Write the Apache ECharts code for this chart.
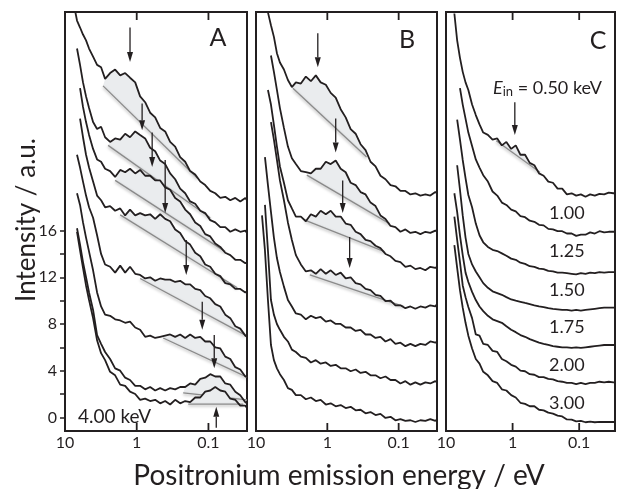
<!DOCTYPE html>
<html><head><meta charset="utf-8">
<script src="https://cdn.jsdelivr.net/npm/echarts@6/dist/echarts.min.js"></script>
<style>html,body{margin:0;padding:0;background:#fff}#c{width:618px;height:489px}</style>
</head><body><div id="c"></div>
<script>
// ---------- data ----------
const energy = [8.24, 7.49, 6.80, 6.17, 5.61, 5.09, 4.62, 4.06, 3.57, 3.14, 2.76, 2.35, 2.00, 1.70, 1.45, 1.24, 1.05, 0.897, 0.763, 0.650, 0.553, 0.471, 0.401, 0.342, 0.291, 0.248, 0.211, 0.180, 0.153, 0.130, 0.111, 0.0944, 0.0804, 0.0684, 0.0583, 0.0496, 0.0422, 0.0360, 0.0306, 0.029];
const energyMin = 0.029, energyMax = 10;
const xTickValues = [1, 0.1];
const yMin = -1.17, yMax = 34.73;
const yTicks = [0, 2, 4, 6, 8, 10, 12, 14, 16];
const yTickLabels = [0, 4, 8, 12, 16];

// Panel A
const A1 = [null, 35.3, 34.0, 33.4, 32.8, 32.3, 31.6, 30.9, 30.2, 30.0, 29.0, 29.5, 29.8, 29.3, 29.5, 29.1, 28.7, 27.5, 27.0, 26.1, 25.7, 24.8, 24.5, 23.6, 23.2, 22.3, 21.9, 21.1, 20.8, 20.2, 19.9, 19.4, 19.2, 18.8, 18.9, 18.6, 18.8, 18.5, 18.8, 18.6];
const A2 = [null, null, 31.6, 30.2, 28.7, 27.5, 26.5, 25.3, 24.7, 24.9, 24.0, 23.6, 23.9, 23.8, 24.3, 24.0, 24.5, 24.2, 23.9, 23.1, 22.8, 22.0, 21.7, 20.9, 20.4, 19.6, 19.2, 18.5, 18.3, 17.7, 17.5, 16.9, 16.7, 16.3, 16.3, 15.9, 16.1, 15.9, 16.0, 15.8];
const A3 = [null, null, null, 28.2, 26.6, 25.3, 24.2, 23.0, 22.1, 21.9, 21.3, 21.1, 20.6, 21.2, 21.0, 21.3, 20.9, 21.2, 20.7, 20.7, 20.3, 20.3, 19.7, 19.5, 18.8, 18.5, 17.8, 17.4, 16.7, 16.4, 15.7, 15.5, 14.9, 14.6, 14.1, 13.9, 13.5, 13.5, 13.2, 13.3];
const A4 = [null, null, null, 25.6, 24.0, 22.5, 21.4, 20.2, 19.0, 18.6, 18.0, 18.1, 17.7, 17.9, 17.3, 17.8, 17.3, 17.5, 17.3, 17.4, 17.0, 17.4, 17.0, 16.8, 16.1, 15.8, 15.1, 14.8, 14.1, 13.8, 13.1, 12.9, 12.3, 12.1, 11.5, 11.4, 11.0, 11.0, 10.7, 10.8];
const A5 = [null, null, 22.5, 21.4, 20.2, 19.0, 18.0, 17.1, 15.6, 14.0, 13.1, 12.9, 12.4, 13.0, 12.4, 12.9, 12.3, 12.2, 11.9, 12.0, 11.7, 11.9, 11.8, 11.8, 11.6, 11.7, 11.4, 11.4, 11.0, 10.9, 10.4, 10.2, 9.7, 9.5, 8.8, 8.5, 7.8, 7.6, 7.0, 6.9];
const A6 = [null, null, 19.2, 18.2, 16.7, 15.4, 14.2, 12.6, 10.7, 9.5, 8.8, 8.7, 8.4, 8.3, 8.1, 8.2, 7.7, 7.5, 6.9, 7.0, 6.8, 6.9, 7.0, 7.1, 6.9, 7.1, 6.8, 7.1, 6.8, 6.9, 6.5, 6.5, 6.0, 5.9, 5.2, 5.0, 4.3, 4.1, 3.5, 3.5];
const A7 = [null, null, 16.2, 14.8, 13.3, 12.0, 10.7, 9.2, 7.05, 6.3, 5.6, 5.0, 4.2, 4.0, 3.4, 3.2, 2.7, 2.7, 2.4, 2.6, 2.3, 2.5, 2.3, 2.5, 2.4, 2.6, 2.6, 2.9, 2.8, 3.3, 3.4, 3.7, 3.5, 3.5, 2.9, 2.8, 2.2, 1.9, 1.3, 1.2];
const A8 = [null, null, 15.9, 14.3, 12.8, 11.3, 10.05, 8.5, 6.6, 5.5, 4.9, 3.9, 3.6, 2.8, 2.7, 2.2, 2.0, 1.5, 1.6, 1.4, 1.5, 1.2, 1.4, 1.1, 1.5, 1.2, 1.4, 1.3, 1.7, 1.7, 2.2, 2.3, 2.6, 2.3, 2.2, 1.6, 1.5, 1.0, 1.0, 0.8];

// Panel B
const B1 = [null, 35.6, 34.7, 33.6, 32.6, 31.2, 30.4, 29.8, 28.9, 28.3, 28.7, 28.6, 29.2, 28.8, 29.3, 28.7, 28.5, 27.8, 27.4, 26.4, 25.7, 24.7, 24.3, 23.4, 22.9, 21.9, 21.5, 20.7, 20.4, 19.9, 19.8, 19.4, 19.4, 19.1, 19.2, 19.0, 19.1, 19.0, 19.3, 19.2];
const B2 = [null, null, null, 31.0, 29.6, 28.05, 26.5, 24.8, 23.2, 22.2, 21.7, 21.1, 21.0, 20.9, 21.3, 21.3, 21.9, 21.7, 22.0, 21.3, 21.0, 20.1, 19.9, 19.3, 19.1, 18.4, 18.1, 17.3, 17.0, 16.4, 16.3, 15.9, 16.1, 15.8, 15.9, 15.7, 15.9, 15.8, 16.0, 15.9];
const B3 = [null, null, 28.05, 26.8, 25.05, 23.2, 21.5, 20.1, 18.6, 17.9, 17.2, 17.2, 16.8, 17.4, 17.2, 17.7, 17.4, 17.7, 17.2, 17.2, 16.6, 16.5, 15.9, 15.7, 15.2, 15.1, 14.7, 14.5, 14.0, 13.8, 13.4, 13.3, 12.9, 13.0, 12.7, 12.8, 12.6, 12.9, 12.8, 12.9];
const B4 = [null, null, null, 25.3, 23.8, 22.05, 20.3, 18.6, 16.7, 15.2, 13.9, 13.1, 12.5, 12.6, 12.3, 12.7, 12.3, 12.6, 12.2, 12.4, 11.9, 12.0, 11.5, 11.4, 11.0, 10.9, 10.5, 10.4, 9.95, 10.0, 9.6, 9.6, 9.35, 9.5, 9.3, 9.5, 9.4, 9.6, 9.5, 9.7];
const B5 = [null, 22.3, 19.9, 17.6, 15.4, 13.65, 12.45, 11.2, 10.05, 9.5, 8.9, 8.8, 8.4, 8.7, 8.5, 8.6, 8.2, 8.3, 8.0, 8.0, 7.7, 7.7, 7.4, 7.5, 7.1, 7.1, 6.8, 6.9, 6.5, 6.7, 6.3, 6.4, 6.1, 6.3, 6.1, 6.3, 6.2, 6.5, 6.4, 6.5];
const B6 = [null, 18.2, 14.3, 10.05, 8.8, 8.0, 7.5, 6.9, 6.5, 5.8, 5.6, 5.2, 5.1, 4.7, 4.9, 4.6, 4.7, 4.4, 4.5, 4.2, 4.2, 3.95, 4.1, 3.8, 3.9, 3.6, 3.6, 3.35, 3.5, 3.2, 3.2, 2.9, 3.1, 2.8, 3.0, 2.8, 3.0, 2.9, 3.1, 3.0];
const B7 = [17.3, 14.3, 10.05, 6.2, 4.9, 4.2, 3.7, 3.2, 2.5, 2.35, 1.9, 1.9, 1.55, 1.7, 1.4, 1.5, 1.1, 1.2, 0.95, 1.05, 0.8, 0.9, 0.6, 0.65, 0.35, 0.45, 0.2, 0.3, -0.05, 0.05, -0.25, -0.15, -0.3, -0.25, -0.4, -0.25, -0.3, -0.15, -0.3, -0.2];

// Panel C
const C1 = [null, 34.6, 32.3, 30.8, 29.6, 28.7, 28.05, 26.8, 25.9, 25.1, 24.4, 24.2, 23.8, 23.9, 23.3, 23.6, 23.0, 23.3, 22.5, 22.5, 21.8, 21.6, 20.9, 20.7, 20.2, 20.1, 19.6, 19.6, 19.1, 19.2, 19.0, 19.1, 18.9, 19.1, 19.0, 19.15, 19.1, 19.25, 19.2, 19.2];
const C2 = [null, null, null, 28.2, 26.8, 25.6, 24.4, 23.25, 22.1, 21.4, 20.75, 20.2, 19.35, 19.0, 18.4, 18.2, 17.8, 17.65, 17.25, 17.15, 16.85, 16.75, 16.5, 16.45, 16.15, 16.1, 15.95, 15.95, 15.75, 15.75, 15.55, 15.65, 15.65, 15.85, 15.75, 15.95, 15.85, 15.9, 15.9, 15.9];
const C3 = [null, null, 25.5, 23.8, 22.05, 20.5, 19.05, 18.0, 16.6, 15.6, 15.0, 14.6, 14.35, 14.25, 14.05, 13.85, 13.6, 13.5, 13.25, 13.15, 12.95, 12.9, 12.75, 12.7, 12.55, 12.5, 12.4, 12.4, 12.35, 12.3, 12.25, 12.35, 12.3, 12.4, 12.35, 12.45, 12.4, 12.45, 12.45, 12.45];
const C4 = [null, null, 21.6, 19.5, 17.3, 15.4, 14.0, 13.1, 12.5, 12.0, 11.5, 11.1, 10.8, 10.65, 10.5, 10.3, 10.1, 10.0, 9.9, 9.8, 9.7, 9.6, 9.5, 9.45, 9.35, 9.3, 9.25, 9.2, 9.2, 9.15, 9.2, 9.15, 9.2, 9.25, 9.3, 9.35, 9.4, 9.4, 9.4, 9.4];
const C5 = [null, 19.2, 17.6, 15.6, 13.9, 12.4, 11.6, 10.75, 10.05, 9.5, 9.1, 8.7, 8.4, 8.25, 8.1, 7.8, 7.5, 7.3, 7.05, 6.9, 6.7, 6.55, 6.4, 6.3, 6.2, 6.1, 6.05, 6.0, 6.0, 5.95, 6.0, 5.95, 6.0, 6.05, 6.1, 6.15, 6.2, 6.2, 6.2, 6.2];
const C6 = [null, 17.2, 15.2, 13.3, 11.3, 10.3, 9.45, 8.5, 7.1, 7.0, 6.3, 6.2, 5.7, 5.6, 5.0, 4.8, 4.5, 4.35, 4.0, 3.95, 3.7, 3.65, 3.45, 3.45, 3.3, 3.25, 3.1, 3.05, 2.95, 2.95, 2.85, 2.95, 2.85, 2.95, 2.95, 3.05, 3.0, 3.05, 3.0, 3.0];
const C7 = [null, 14.75, 12.8, 10.9, 9.4, 8.1, 7.0, 5.9, 5.0, 4.6, 3.9, 3.6, 3.1, 2.95, 2.4, 2.3, 1.9, 1.7, 1.25, 1.15, 0.95, 0.95, 0.65, 0.6, 0.4, 0.32, 0.15, 0.08, -0.18, -0.2, -0.35, -0.3, -0.42, -0.37, -0.42, -0.38, -0.4, -0.4, -0.4, -0.4];

// Shaded Ps peaks: [E start, I start, E end, I end, curve index]
const shadeA = [[2.95, 28.4, 0.1433, 20.5, 0], [2.51, 23.3, 0.0944, 17.1, 1], [2.00, 20.3, 0.0583, 14.2, 2], [1.70, 17.35, 0.0396, 11.1, 3], [0.897, 11.9, 0.0306, 7.05, 4], [0.428, 6.8, 0.029, 3.45, 5], [0.225, 2.1, 0.029, 1.5, 6], [0.1915, 1.14, 0.0327, 1.14, 7]];
const shadeB = [[3.04, 28.2, 0.2815, 22.3, 0], [1.94, 20.75, 0.1344, 16.6, 1], [2.07, 16.9, 0.158, 14.2, 2], [1.76, 12.2, 0.0855, 9.5, 3]];
const shadeC = [[1.76, 23.7, 0.389, 21.0, 0]];

// Peak arrows: [E, I from, I to]
const arrowsA = [[1.24, 33.4, 30.45], [0.841, 26.9, 24.6], [0.609, 24.4, 21.45], [0.401, 22.05, 17.5], [0.204, 15.2, 12.2], [0.122, 9.9, 7.5], [0.083, 7.05, 4.2], [0.0778, -0.9, 0.9]];
const arrowsB = [[1.36, 32.9, 30.0], [0.763, 25.6, 22.7], [0.609, 20.3, 17.5], [0.4866, 15.45, 12.8]];
const arrowsC = [[0.926, 27.0, 24.2]];

const panelLetters = ['A', 'B', 'C'];
const cLabels = ['1.00', '1.25', '1.50', '1.75', '2.00', '3.00'];

// ---------- chart ----------
const INK = '#231f20';
const FONT = 'Lato, "Open Sans", sans-serif';
const panels = [[A1, A2, A3, A4, A5, A6, A7, A8], [B1, B2, B3, B4, B5, B6, B7], [C1, C2, C3, C4, C5, C6, C7]];
const shades = [shadeA, shadeB, shadeC];
const arrows = [arrowsA, arrowsB, arrowsC];

const chart = echarts.init(document.getElementById('c'), null, {renderer: 'canvas', width: 618, height: 489});

const gridBoxes = [
  {left: 65, top: 12, width: 182, height: 419},
  {left: 256, top: 12, width: 181, height: 419},
  {left: 446, top: 12, width: 182, height: 419}
];
const grid = gridBoxes.map(g => Object.assign({}, g, {show: true, borderColor: INK, borderWidth: 2, backgroundColor: 'rgba(0,0,0,0)', containLabel: false}));

const isDecade = v => Math.abs(Math.log10(v) - Math.round(Math.log10(v))) < 1e-6;
const fmtDecade = v => isDecade(v) ? (v >= 1 ? String(Math.round(v)) : String(+v.toPrecision(1))) : '';

const xAxis = [0, 1, 2].map(i => ({
  type: 'log', logBase: 10, gridIndex: i, position: 'bottom', inverse: true,
  min: energyMin, max: energyMax,
  axisLine: {show: false, onZero: false}, splitLine: {show: false}, minorTick: {show: false},
  axisTick: {show: false},
  axisLabel: {fontSize: 16, fontFamily: FONT, color: INK, margin: 4, formatter: fmtDecade}
}));
const yAxis = [
  {gridIndex: 0, type: 'value', min: yMin, max: yMax, axisLine: {show: false, onZero: false}, splitLine: {show: false},
   axisTick: {show: true, inside: false, length: 5, customValues: yTicks, lineStyle: {color: INK, width: 1.5}},
   axisLabel: {customValues: yTickLabels, fontSize: 16, fontFamily: FONT, color: INK, margin: 8}},
  {gridIndex: 1, type: 'value', min: yMin, max: yMax, show: false},
  {gridIndex: 2, type: 'value', min: yMin, max: yMax, show: false}
];

const series = [];
panels.forEach((curves, p) => {
  series.push({
    type: 'custom', coordinateSystem: 'cartesian2d', xAxisIndex: p, yAxisIndex: p, z: 1, silent: true,
    data: shades[p], encode: {x: [0, 2], y: [1, 3]},
    renderItem: (params, api) => {
      const fe = api.value(0), fv = api.value(1), te = api.value(2), tv = api.value(3), ci = api.value(4);
      const ys = curves[ci];
      const a = api.coord([fe, fv]), b = api.coord([te, tv]);
      const pts = [a];
      for (let i = 0; i < energy.length; i++) {
        if (ys[i] !== null && energy[i] < fe && energy[i] > te) pts.push(api.coord([energy[i], ys[i]]));
      }
      pts.push(b);
      return {type: 'group', children: [
        {type: 'polygon', shape: {points: pts}, style: {fill: '#eaecee'}},
        {type: 'line', shape: {x1: a[0], y1: a[1], x2: b[0], y2: b[1]},
         style: {stroke: '#8a8a8a', lineWidth: 1.3, shadowBlur: 3, shadowColor: 'rgba(0,0,0,0.35)', shadowOffsetY: 1.5}}
      ]};
    }
  });
  curves.forEach(ys => {
    const data = [];
    energy.forEach((e, i) => { if (ys[i] !== null) data.push([e, ys[i]]); });
    series.push({type: 'line', xAxisIndex: p, yAxisIndex: p, data, showSymbol: false, symbol: 'none',
      lineStyle: {color: INK, width: 1.8}, silent: true, z: 3, clip: true});
  });
  series.push({
    type: 'custom', coordinateSystem: 'cartesian2d', xAxisIndex: p, yAxisIndex: p, z: 4, silent: true,
    data: arrows[p], encode: {x: 0, y: [1, 2]},
    renderItem: (params, api) => {
      const p0 = api.coord([api.value(0), api.value(1)]);
      const p1 = api.coord([api.value(0), api.value(2)]);
      const dir = p1[1] > p0[1] ? 1 : -1;
      const hl = 10, hw = 3;
      return {type: 'group', children: [
        {type: 'line', shape: {x1: p0[0], y1: p0[1], x2: p1[0], y2: p1[1] - dir * hl}, style: {stroke: INK, lineWidth: 1.3}},
        {type: 'polygon', shape: {points: [[p1[0], p1[1]], [p1[0] - hw, p1[1] - dir * hl], [p1[0] + hw, p1[1] - dir * hl]]}, style: {fill: INK}}
      ]};
    }
  });
});

const txt = (x, y, text, size, extra) => Object.assign({type: 'text', x, y, z: 10, silent: true,
  style: Object.assign({text, fontSize: size, fontFamily: FONT, fill: INK, align: 'center', verticalAlign: 'middle'}, extra || {})});
const letterPos = [[218, 38], [407, 40], [598, 41]];
const cLabelY = [213, 251, 290, 327, 365, 403];
const graphic = [];
panelLetters.forEach((t, i) => graphic.push(txt(letterPos[i][0], letterPos[i][1], t, 25)));
graphic.push(txt(78, 417, '4.00 keV', 19, {align: 'left'}));
cLabels.forEach((t, i) => graphic.push(txt(549, cLabelY[i], t, 18, {align: 'left'})));
graphic.push({type: 'text', x: 493, y: 88, z: 10, silent: true, style: {
  text: '{e|E}{s|in}{t| = 0.50 keV}', align: 'left', verticalAlign: 'middle', fill: INK,
  rich: {
    e: {fontSize: 18, fontStyle: 'italic', fontFamily: FONT, fill: INK, verticalAlign: 'middle'},
    s: {fontSize: 13, fontFamily: FONT, fill: INK, verticalAlign: 'bottom', padding: [7, 0, 0, 0]},
    t: {fontSize: 18, fontFamily: FONT, fill: INK, verticalAlign: 'middle'}
  }}});
graphic.push(txt(339, 476, 'Positronium emission energy / eV', 28));
graphic.push(Object.assign(txt(27, 220, 'Intensity / a.u.', 26), {rotation: Math.PI / 2}));

chart.setOption({animation: false, grid, xAxis, yAxis, series, graphic});

// inward x ticks at top and bottom of every panel, placed through each panel's own axes
const tickLen = 8;
const tickGraphics = [];
[0, 1, 2].forEach(p => {
  xTickValues.forEach(v => {
    const bot = chart.convertToPixel({xAxisIndex: p, yAxisIndex: p}, [v, yMin]);
    const top = chart.convertToPixel({xAxisIndex: p, yAxisIndex: p}, [v, yMax]);
    if (!bot || !top) return;
    tickGraphics.push({type: 'line', z: 20, silent: true, shape: {x1: bot[0], y1: bot[1], x2: bot[0], y2: bot[1] - tickLen}, style: {stroke: INK, lineWidth: 1.8}});
    tickGraphics.push({type: 'line', z: 20, silent: true, shape: {x1: top[0], y1: top[1], x2: top[0], y2: top[1] + tickLen}, style: {stroke: INK, lineWidth: 1.8}});
  });
});
chart.setOption({graphic: graphic.concat(tickGraphics)}, {replaceMerge: ['graphic']});
</script>
</body></html>
